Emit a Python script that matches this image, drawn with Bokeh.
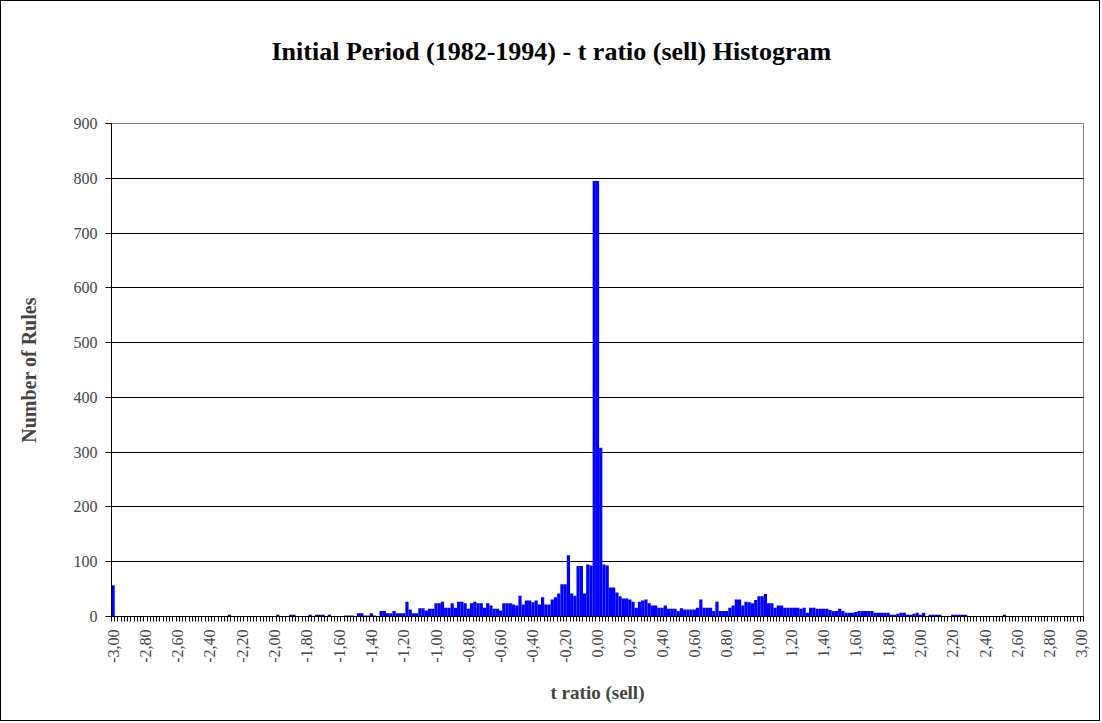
import numpy as np
from bokeh.plotting import figure
from bokeh.models import (Range1d, FixedTicker, SingleIntervalTicker,
                          CustomJSTickFormatter, ColumnDataSource)
from bokeh.embed import file_html
from bokeh.resources import INLINE

# ---- data -------------------------------------------------------------
# bin centres: -3.00 ... 3.00 in steps of 0.02 (301 categories)
bins = np.round(np.arange(-300, 301, 2) / 100.0, 2)

counts = [
    57, 0, 0, 0, 0, 0, 0, 0, 0, 0,            # 0-9
    0, 0, 0, 0, 0, 0, 0, 0, 0, 0,             # 10-19
    0, 0, 0, 0, 0, 0, 0, 0, 0, 0,             # 20-29
    0, 0, 0, 0, 0, 0, 3, 0, 0, 0,             # 30-39
    0, 0, 0, 0, 0, 0, 0, 0, 0, 0,             # 40-49
    0, 3, 0, 0, 0, 3, 3, 0, 0, 0,             # 50-59
    0, 3, 0, 3, 3, 3, 0, 3, 0, 0,             # 60-69
    0, 0, 2, 2, 2, 0, 6, 6, 2, 2,             # 70-79
    6, 2, 0, 10, 10, 6, 6, 10, 6, 6,          # 80-89
    6, 27, 13, 6, 6, 15, 15, 11, 14, 14,      # 90-99
    24, 24, 27, 16, 16, 24, 16, 27, 27, 24,   # 100-109
    14, 24, 27, 24, 24, 16, 24, 20, 14, 14,   # 110-119
    11, 24, 24, 24, 22, 20, 38, 22, 29, 29,   # 120-129
    26, 29, 22, 35, 22, 22, 31, 35, 42, 59,   # 130-139
    59, 112, 42, 38, 92, 92, 42, 95, 93, 795, # 140-149
    795, 308, 95, 93, 53, 53, 44, 37, 33, 33, # 150-159
    31, 27, 16, 27, 29, 31, 24, 20, 20, 16,   # 160-169
    16, 20, 14, 14, 14, 10, 15, 13, 13, 13,   # 170-179
    13, 16, 31, 16, 16, 16, 10, 27, 10, 10,   # 180-189
    10, 16, 20, 31, 31, 20, 27, 26, 24, 30,   # 190-199
    37, 37, 41, 24, 24, 16, 20, 20, 16, 16,   # 200-209
    16, 16, 16, 14, 16, 7, 16, 16, 14, 14,    # 210-219
    14, 14, 12, 10, 10, 14, 10, 7, 7, 7,      # 220-229
    8, 10, 10, 10, 10, 10, 7, 7, 7, 7,        # 230-239
    7, 3, 3, 5, 7, 7, 3, 3, 5, 7,             # 240-249
    3, 7, 0, 3, 3, 3, 3, 0, 0, 0,             # 250-259
    3, 3, 3, 3, 3, 0, 0, 0, 0, 0,             # 260-269
    0, 0, 0, 0, 0, 0, 3, 0, 0, 0,             # 270-279
    0, 0, 0, 0, 0, 0, 0, 0, 0, 0,             # 280-289
    0, 0, 0, 0, 0, 0, 0, 0, 0, 0,             # 290-299
    0,                                        # 300
]

x_tick_labels = ["-3,00", "-2,80", "-2,60", "-2,40", "-2,20", "-2,00",
                 "-1,80", "-1,60", "-1,40", "-1,20", "-1,00", "-0,80",
                 "-0,60", "-0,40", "-0,20", "0,00", "0,20", "0,40", "0,60",
                 "0,80", "1,00", "1,20", "1,40", "1,60", "1,80", "2,00",
                 "2,20", "2,40", "2,60", "2,80", "3,00"]
x_tick_pos = [float(s.replace(",", ".")) for s in x_tick_labels]

title_text = "Initial Period (1982-1994) - t ratio (sell) Histogram"
x_title = "t ratio (sell)"
y_title = "Number of Rules"

FONT = "Liberation Serif"

# ---- figure -----------------------------------------------------------
p = figure(width=1100, height=721, output_backend="svg", toolbar_location=None,
           x_range=Range1d(-3.01, 3.01), y_range=Range1d(0, 900),
           min_border_left=110, min_border_right=18,
           min_border_top=122, min_border_bottom=106)

# outer chart border
p.styles = {"border": "1px solid black"}

# a blank second line lifts the title higher above the plot frame
p.title.text = title_text + "\n "
p.title.align = "left"
p.title.offset = 160
p.title.vertical_align = "top"
p.title.text_font = FONT
p.title.text_font_size = "26px"
p.title.text_font_style = "bold"
p.title.text_color = "black"
p.title.standoff = 54

p.outline_line_color = "#808080"
p.outline_line_width = 1
p.background_fill_color = "white"
p.border_fill_color = "white"

src = ColumnDataSource(dict(x=bins, top=counts))
p.vbar(x="x", top="top", width=0.02, source=src,
       fill_color="#0000FF", line_color=None)

# grid
p.xgrid.grid_line_color = None
p.ygrid.grid_line_color = "black"
p.ygrid.grid_line_width = 1
p.ygrid.ticker = SingleIntervalTicker(interval=100)

# y axis
p.yaxis.ticker = SingleIntervalTicker(interval=100)
p.yaxis.axis_line_color = "black"
p.yaxis.major_tick_out = 6
p.yaxis.major_tick_in = 0
p.yaxis.minor_tick_line_color = None
p.yaxis.major_label_text_font = FONT
p.yaxis.major_label_text_font_size = "16px"
p.yaxis.major_label_standoff = 8
p.yaxis.axis_label = y_title
p.yaxis.axis_label_text_font = FONT
p.yaxis.axis_label_text_font_size = "20px"
p.yaxis.axis_label_text_font_style = "bold"
p.yaxis.axis_label_standoff = 31

# x axis
boundaries = list(np.round(np.arange(-301, 302, 2) / 100.0, 2))
p.xaxis.ticker = FixedTicker(ticks=x_tick_pos, minor_ticks=boundaries)
p.xaxis.formatter = CustomJSTickFormatter(
    args=dict(pos=x_tick_pos, lab=x_tick_labels),
    code="""
    for (let i = 0; i < pos.length; i++) {
        if (Math.abs(pos[i] - tick) < 1e-6) return lab[i];
    }
    return '';
    """)
p.xaxis.axis_line_color = "black"
p.xaxis.major_tick_line_color = None
p.xaxis.major_tick_out = 5
p.xaxis.minor_tick_out = 5
p.xaxis.minor_tick_in = 0
p.xaxis.minor_tick_line_color = "black"
p.xaxis.major_label_orientation = np.pi / 2
p.xaxis.major_label_text_font = FONT
p.xaxis.major_label_text_font_size = "16px"
p.xaxis.major_label_standoff = 8
p.xaxis.axis_label = x_title
p.xaxis.axis_label_text_font = FONT
p.xaxis.axis_label_text_font_size = "19px"
p.xaxis.axis_label_text_font_style = "bold"
p.xaxis.axis_label_standoff = 16

open("out.html", "w").write(file_html(p, INLINE))
